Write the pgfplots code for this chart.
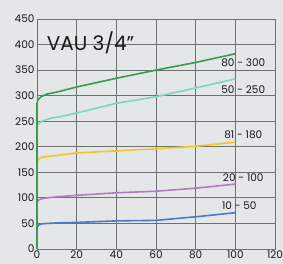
\documentclass[border=0pt]{standalone}
\usepackage{pgfplots}
\pgfplotsset{compat=1.18}
\usepackage{fontspec}
\setmainfont{Poppins}
\definecolor{bg}{HTML}{E4E6E8}
\definecolor{gridc}{HTML}{6E7072}
\definecolor{cgreen}{HTML}{3A9A55}
\definecolor{cteal}{HTML}{80D4C2}
\definecolor{cyellow}{HTML}{F4C623}
\definecolor{cpurple}{HTML}{B07CC0}
\definecolor{cblue}{HTML}{4A7CC4}
\begin{document}
\begin{tikzpicture}
\fill[bg] (-37pt,-15pt) rectangle (246pt,249pt);
\useasboundingbox (-37pt,-15pt) rectangle (246pt,249pt);
\begin{axis}[
  scale only axis, width=238pt, height=230pt,
  at={(0,0)}, anchor=south west,
  xmin=0, xmax=120, ymin=0, ymax=450,
  xtick={0,20,...,120}, ytick={0,50,...,450},
  grid=major,
  major grid style={gridc, line width=0.8pt},
  axis line style={gridc, line width=0.8pt},
  major tick length=0pt,
  tick label style={font=\fontsize{10.5}{12}\selectfont, text=black!90},
  /pgf/number format/assume math mode=true,
  xticklabel style={yshift=2pt},
  yticklabel style={xshift=1pt},
  clip=false,
]
\addplot[cblue, line width=1.6pt] coordinates {(0,40) (0.5,46) (2,49) (5,50) (10,51) (20,52) (40,55) (60,56) (80,63) (100,71)};
\addplot[cpurple, line width=1.6pt] coordinates {(0,90) (0.5,95) (2,98) (5,100) (10,102) (20,105) (40,110) (60,113) (80,119) (100,127)};
\addplot[cyellow, line width=1.6pt] coordinates {(0,168) (0.5,175) (2,179) (5,181) (10,183) (20,188) (40,192) (60,196) (80,201) (100,209)};
\addplot[cteal, line width=1.6pt] coordinates {(0,240) (1,246) (3,251) (7,256) (12,259) (20,266) (40,285) (60,298) (80,315) (100,333)};
\addplot[cgreen, line width=1.6pt] coordinates {(0,0) (0,285) (0.5,292) (2,298) (5,303) (10,307) (20,317) (40,334) (60,350) (80,365) (100,382)};
\node[font=\fontsize{20}{22}\selectfont, text=black!90] at (axis cs:27,404) {VAU 3/4\textquotedblright};
\node[font=\fontsize{10.5}{12}\selectfont, text=black!90] at (axis cs:104,364) {80 - 300};
\node[font=\fontsize{10.5}{12}\selectfont, text=black!90] at (axis cs:104,311) {50 - 250};
\node[font=\fontsize{10.5}{12}\selectfont, text=black!90] at (axis cs:104,223) {81 - 180};
\node[font=\fontsize{10.5}{12}\selectfont, text=black!90] at (axis cs:104,139) {20 - 100};
\node[font=\fontsize{10.5}{12}\selectfont, text=black!90] at (axis cs:102,84) {10 - 50};
\end{axis}
\end{tikzpicture}
\end{document}
